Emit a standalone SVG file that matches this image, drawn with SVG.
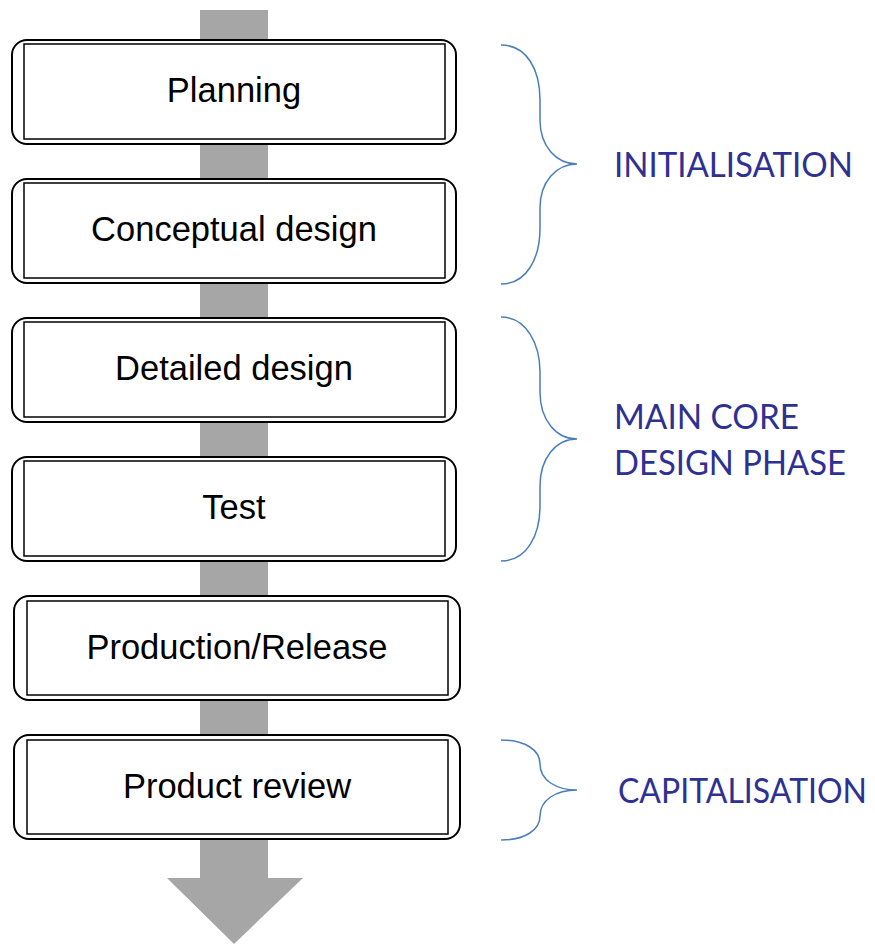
<svg xmlns="http://www.w3.org/2000/svg" width="875" height="944" viewBox="0 0 875 944">
<style>
.outer{fill:#fff;stroke:#000;stroke-width:2}
.inner{fill:none;stroke:#000;stroke-width:1.5}
.lbl{font-family:"Liberation Sans",Arial,sans-serif;font-size:34.5px;fill:#000;text-anchor:middle}
.phase{font-family:Lato,"Noto Sans",sans-serif;font-size:34px;fill:#2E3192}
.brace{fill:none;stroke:#4A7EBB;stroke-width:1.5}
</style>
<g id="connectors">
<rect x="200" y="10" width="68" height="868" fill="#A6A6A6"/>
<polygon points="167,878 303,878 234,944" fill="#A6A6A6"/>
</g>
<g id="planning">
<rect class="outer" x="12" y="40" width="444" height="104" rx="15"/>
<rect class="inner" x="24" y="44" width="421" height="95"/>
<text class="lbl" x="234" y="102">Planning</text>
</g>
<g id="conceptual">
<rect class="outer" x="12" y="179" width="444" height="104" rx="15"/>
<rect class="inner" x="24" y="183" width="421" height="95"/>
<text class="lbl" x="234" y="241">Conceptual design</text>
</g>
<g id="detailed">
<rect class="outer" x="12" y="318" width="444" height="104" rx="15"/>
<rect class="inner" x="24" y="322" width="421" height="95"/>
<text class="lbl" x="234" y="380">Detailed design</text>
</g>
<g id="test">
<rect class="outer" x="12" y="457" width="444" height="104" rx="15"/>
<rect class="inner" x="24" y="461" width="421" height="95"/>
<text class="lbl" x="234" y="519">Test</text>
</g>
<g id="production">
<rect class="outer" x="14" y="596" width="446" height="104" rx="15"/>
<rect class="inner" x="27" y="601" width="421" height="94"/>
<text class="lbl" x="237" y="659">Production/Release</text>
</g>
<g id="review">
<rect class="outer" x="14" y="735" width="446" height="104" rx="15"/>
<rect class="inner" x="27" y="740" width="421" height="94"/>
<text class="lbl" x="237" y="798">Product review</text>
</g>
<g id="initialisation">
<path class="brace" d="M501,45 C527,45 540,70 540,100 L540,120 C540,146 556,164 577,164 C556,164 540,182 540,208 L540,228 C540,258 527,284 501,284"/>
<text class="phase" x="614" y="177" textLength="239" lengthAdjust="spacingAndGlyphs">INITIALISATION</text>
</g>
<g id="maincore">
<path class="brace" d="M501,317 C527,317 540,345 540,372 L540,392 C540,420 556,439 577,439 C556,439 540,458 540,486 L540,506 C540,535 527,561 501,561"/>
<text class="phase" x="614" y="429" textLength="185" lengthAdjust="spacingAndGlyphs">MAIN CORE</text>
<text class="phase" x="614" y="475" textLength="232" lengthAdjust="spacingAndGlyphs">DESIGN PHASE</text>
</g>
<g id="capitalisation">
<path class="brace" d="M501,740 C525,740 540,750 540,764 C540,780 556,790 577,790 C556,790 540,800 540,816 C540,830 525,840 501,840"/>
<text class="phase" x="618" y="803" font-size="32" textLength="249" lengthAdjust="spacingAndGlyphs">CAPITALISATION</text>
</g>
</svg>
